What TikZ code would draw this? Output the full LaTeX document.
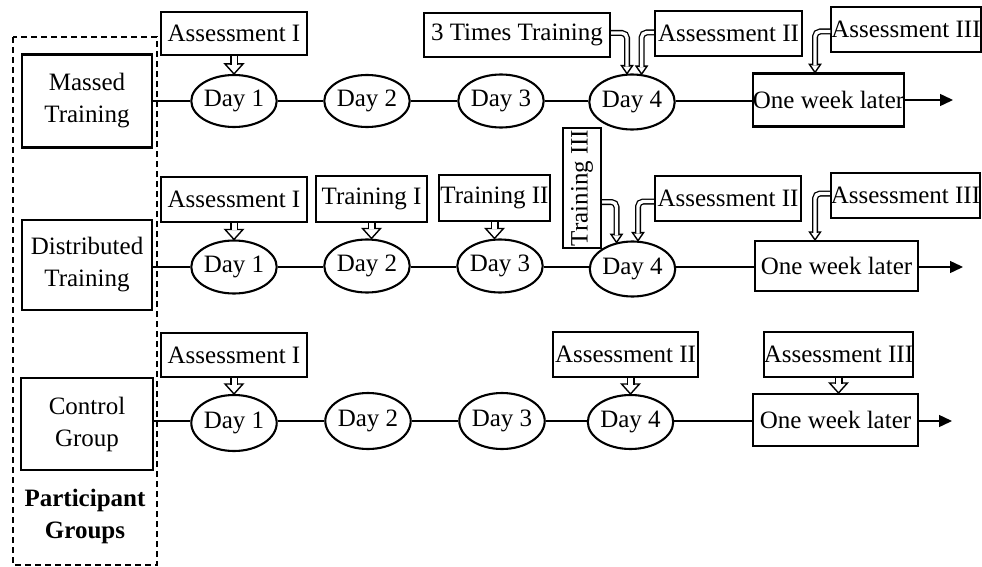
\documentclass[tikz,border=0pt]{standalone}
\usepackage{fontspec}
\setmainfont{Liberation Serif}
\usetikzlibrary{shapes.geometric,arrows.meta,calc}
\newcommand\hhead[3]{\draw[headline] (#1) -- ++(-#2,-#3) -- ++({2*#2},0) -- cycle;}
\tikzset{
 lbl/.style={draw, line width=2.1, inner sep=0, align=center},
 day/.style={draw, ellipse, line width=2.1, inner sep=0},
 conn/.style={line width=1.4},
 bigshaft/.style={double=white, double distance=5, line width=1.5},
 smallshaft/.style={double=white, double distance=3.4, line width=1.3, rounded corners=5},
 headline/.style={line width=1.4, fill=white, line join=miter},
 endarrow/.style={conn, -{Triangle[length=13,width=12]}}
}
\begin{document}
\begin{tikzpicture}[x=1pt,y=-1pt,font=\fontsize{25}{32}\selectfont]
\useasboundingbox (0,0) rectangle (982,567);
\fill[white] (0,0) rectangle (982,567);
% participant groups frame
\draw[line width=2.2, dash pattern=on 6 off 4] (13,37) rectangle (157,565);
\node[font=\fontsize{25}{32}\selectfont\bfseries, align=center] (pg) at (85,516) {Participant\\Groups};

% ---------- Row 1 ----------
\node[lbl, minimum width=130, minimum height=93] (m) at (87,101) {Massed\\Training};
\node[day, minimum width=83, minimum height=52] (d1) at (234,101) {Day 1};
\node[day, minimum width=84, minimum height=52] (d2) at (367,101) {Day 2};
\node[day, minimum width=84, minimum height=53] (d3) at (501,101) {Day 3};
\node[day, minimum width=82, minimum height=55] (d4) at (632,102) {Day 4};
\node[lbl, minimum width=151, minimum height=53] (w1) at (828.5,100) {One week later};
\coordinate (e1) at (953,100);
\node[lbl, minimum width=146, minimum height=43] (a1) at (234,33.5) {Assessment I};
\node[lbl, minimum width=186, minimum height=44] (t1) at (517,35) {3 Times Training};
\node[lbl, minimum width=147, minimum height=45] (b1) at (728.5,33.5) {Assessment II};
\node[lbl, minimum width=148, minimum height=45] (c1) at (906,29.5) {Assessment III};

\draw[conn] (m.east |- d1) -- (d1) -- (d2) -- (d3) -- (d4.west |- d1) (d4.east |- d1) -- (w1.west |- d1);
\draw[endarrow] (w1) -- (e1);

\hhead{d1.north}{9}{10}
\draw[bigshaft] (a1.south) -- ($(d1.north)+(0,-9)$);
\hhead{d4.100}{5.5}{8}
\draw[smallshaft] ($(t1.east)+(0,-2)$) -| ($(d4.100)+(0,-7)$);
\hhead{d4.71}{5.5}{8}
\draw[smallshaft] ($(b1.west)+(0,-1)$) -| ($(d4.71)+(0,-7)$);
\hhead{$(w1.north)+(-13.5,0)$}{5.5}{8}
\draw[smallshaft] ($(c1.west)+(0,2)$) -| ($(w1.north)+(-13.5,-7)$);

% ---------- Row 2 ----------
\node[lbl, minimum width=130, minimum height=90] (dt) at (87,265) {Distributed\\Training};
\node[day, minimum width=84, minimum height=53] (d1b) at (234,267) {Day 1};
\node[day, minimum width=83, minimum height=53] (d2b) at (367,266) {Day 2};
\node[day, minimum width=84, minimum height=53] (d3b) at (500,266) {Day 3};
\node[day, minimum width=83, minimum height=55] (d4b) at (632.5,269) {Day 4};
\node[lbl, minimum width=163, minimum height=50] (w2) at (836.5,266) {One week later};
\coordinate (e2) at (963,267);
\node[lbl, minimum width=146, minimum height=45] (a2) at (234,199.5) {Assessment I};
\node[lbl, minimum width=111, minimum height=46] (tr1) at (371.5,199) {Training I};
\node[lbl, minimum width=111, minimum height=46] (tr2) at (494.5,198) {Training II};
\node[lbl, minimum width=120, minimum height=38, rotate=90] (tr3) at (582,188) {Training III};
\node[lbl, minimum width=146, minimum height=45] (b2) at (728,198.5) {Assessment II};
\node[lbl, minimum width=149, minimum height=45] (c2) at (905.5,195.5) {Assessment III};

\draw[conn] (dt.east |- d1b) -- (d1b) (d1b.east |- e2) -- (d2b.west |- e2) (d2b.east |- e2) -- (d3b.west |- e2) (d3b.east |- e2) -- (d4b.west |- e2) (d4b.east |- e2) -- (w2.west |- e2);
\draw[endarrow] (w2.east |- e2) -- (e2);

\hhead{d1b.north}{9}{10}
\draw[bigshaft] (a2.south) -- ($(d1b.north)+(0,-9)$);
\hhead{tr1.south |- d2b.north}{9}{10}
\draw[bigshaft] (tr1.south) -- ($(tr1.south |- d2b.north)+(0,-9)$);
\hhead{tr2.south |- d3b.north}{9}{10}
\draw[bigshaft] (tr2.south) -- ($(tr2.south |- d3b.north)+(0,-9)$);
\hhead{d4b.121}{5.5}{8}
\draw[smallshaft] ($(tr3.south)+(0,14)$) -| ($(d4b.121)+(0,-7)$);
\hhead{d4b.79}{5.5}{8}
\draw[smallshaft] ($(b2.west)+(0,3)$) -| ($(d4b.79)+(0,-7)$);
\hhead{$(w2.north)+(-21.5,0)$}{5.5}{8}
\draw[smallshaft] ($(c2.west)+(0,-2)$) -| ($(w2.north)+(-21.5,-7)$);

% ---------- Row 3 ----------
\node[lbl, minimum width=132, minimum height=92] (cg) at (87,424) {Control\\Group};
\node[day, minimum width=84, minimum height=56] (d1c) at (234,423) {Day 1};
\node[day, minimum width=84, minimum height=56] (d2c) at (368,421) {Day 2};
\node[day, minimum width=85, minimum height=56] (d3c) at (502,421) {Day 3};
\node[day, minimum width=85, minimum height=54] (d4c) at (630.5,422) {Day 4};
\node[lbl, minimum width=165, minimum height=52] (w3) at (835.5,420) {One week later};
\coordinate (e3) at (952,421);
\node[lbl, minimum width=146, minimum height=44] (a3) at (234,355) {Assessment I};
\node[lbl, minimum width=145, minimum height=45] (b3) at (625.5,354.5) {Assessment II};
\node[lbl, minimum width=149, minimum height=45] (c3) at (838.5,354.5) {Assessment III};

\draw[conn] (cg.east |- e3) -- (d1c.west |- e3) (d1c.east |- e3) -- (d2c.west |- e3) (d2c.east |- e3) -- (d3c.west |- e3) (d3c.east |- e3) -- (d4c.west |- e3) (d4c.east |- e3) -- (w3.west |- e3);
\draw[endarrow] (w3.east |- e3) -- (e3);

\hhead{d1c.north}{9}{10}
\draw[bigshaft] (a3.south) -- ($(d1c.north)+(0,-9)$);
\hhead{d4c.north}{9}{10}
\draw[bigshaft] (b3.south -| d4c.north) -- ($(d4c.north)+(0,-9)$);
\hhead{c3.south |- w3.north}{9}{10}
\draw[bigshaft] (c3.south) -- ($(c3.south |- w3.north)+(0,-9)$);
\end{tikzpicture}
\end{document}
